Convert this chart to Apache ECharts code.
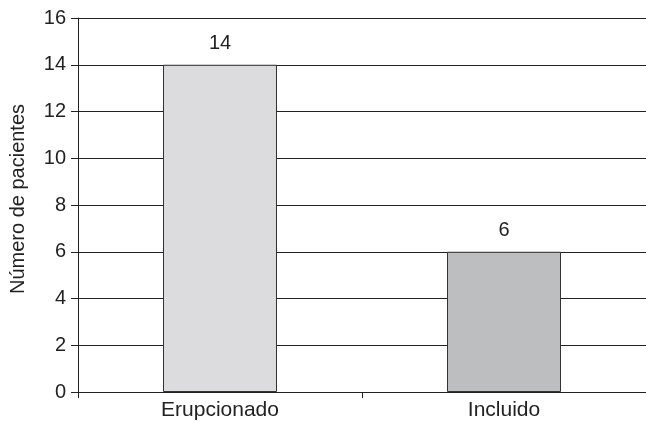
<!DOCTYPE html>
<html>
<head>
<meta charset="utf-8">
<script src="https://cdn.jsdelivr.net/npm/echarts@6/dist/echarts.min.js"></script>
<style>
  html, body { margin: 0; padding: 0; background: #fff; }
  #chart { width: 646px; height: 422px; }
</style>
</head>
<body>
<div id="chart"></div>
<script>
// Patients by tooth status
const categories = ['Erupcionado', 'Incluido'];
const patientCounts = [14, 6];
const barColors = ['#dcdcde', '#bdbebf'];
const yTicks = [0, 2, 4, 6, 8, 10, 12, 14, 16];

const chart = echarts.init(document.getElementById('chart'), null, { renderer: 'canvas' });
const font = 'Liberation Sans, Arial, sans-serif';
const ink = '#222';

chart.setOption({
  animation: false,
  backgroundColor: '#ffffff',
  // the plot runs slightly past the right edge of the canvas
  grid: { left: 77, top: 18, width: 572, height: 374, containLabel: false },
  xAxis: {
    type: 'category',
    data: categories,
    boundaryGap: true,
    axisLine: { show: true, lineStyle: { color: ink, width: 1 } },
    axisTick: { show: true, length: 6, lineStyle: { color: ink } },
    axisLabel: { color: ink, fontSize: 21, fontFamily: font, margin: 8 }
  },
  yAxis: {
    type: 'value',
    min: yTicks[0],
    max: yTicks[yTicks.length - 1],
    interval: 2,
    name: 'Número de pacientes',
    nameLocation: 'middle',
    nameRotate: 90,
    nameGap: 50,
    nameTextStyle: { color: ink, fontSize: 20, fontFamily: font, padding: [0, 0, 0, 12] },
    axisLine: { show: true, lineStyle: { color: ink, width: 1 } },
    axisTick: { show: true, length: 7, lineStyle: { color: ink } },
    axisLabel: { color: ink, fontSize: 20, fontFamily: font, margin: 12 },
    splitLine: { show: true, lineStyle: { color: ink, width: 1 } }
  },
  series: [{
    type: 'bar',
    barWidth: 114,
    data: patientCounts.map((v, i) => ({
      value: v,
      itemStyle: { color: barColors[i], borderColor: '#333', borderWidth: 1 }
    })),
    label: {
      show: true,
      position: 'top',
      distance: 11,
      color: ink,
      fontSize: 20,
      fontFamily: font
    }
  }]
});
</script>
</body>
</html>
